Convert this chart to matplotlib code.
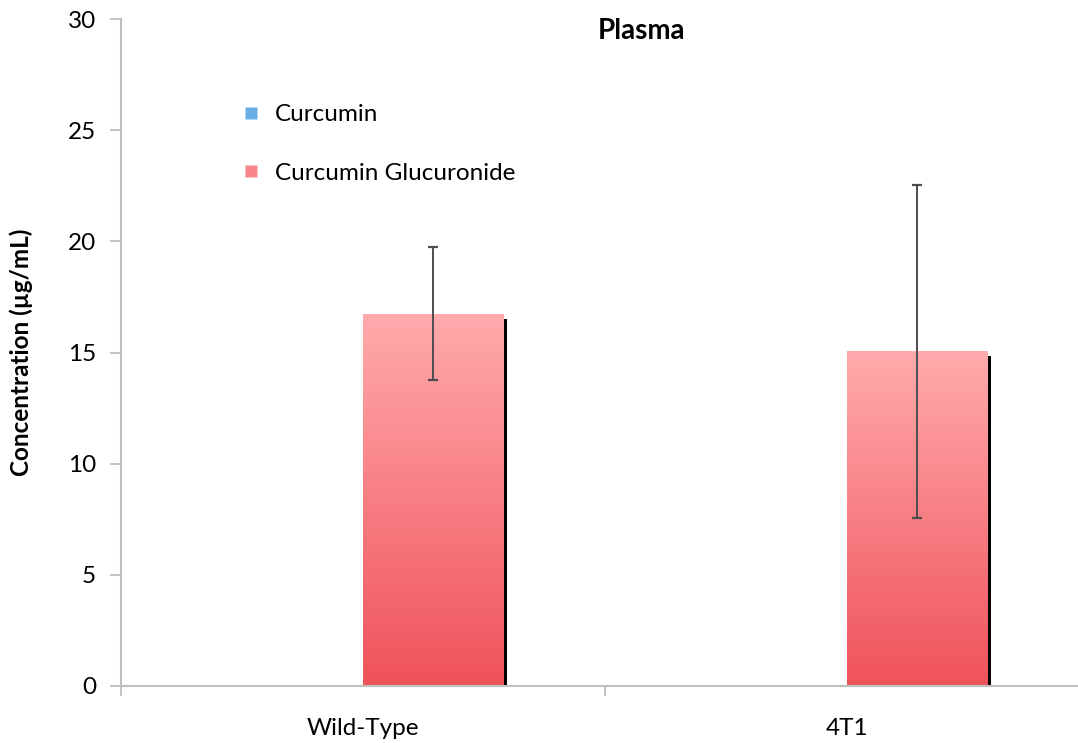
import numpy as np
import matplotlib
matplotlib.use("Agg")
import matplotlib.pyplot as plt
from matplotlib.patches import Rectangle
from matplotlib.lines import Line2D
import matplotlib.transforms as mtransforms
from matplotlib.colors import LinearSegmentedColormap

plt.rcParams['font.family'] = ['Lato', 'DejaVu Sans']

categories = ["Wild-Type", "4T1"]
curcumin = [0.0, 0.0]
glucuronide = [16.75, 15.05]
glucuronide_err = [3.0, 7.5]
series_labels = ["Curcumin", "Curcumin Glucuronide"]

fig = plt.figure(figsize=(10.78, 7.43), dpi=100)
ax = fig.add_axes([121 / 1078, 57 / 743, 968 / 1078, 667 / 743])

x = np.arange(len(categories))
w = 0.29

pink_cmap = LinearSegmentedColormap.from_list("pink", ["#f0525a", "#ffabad"])
blue_cmap = LinearSegmentedColormap.from_list("blue", ["#3d8fd6", "#9ccbf3"])
grad = np.linspace(0, 1, 256).reshape(-1, 1)


def gradient_bar(x0, height, cmap):
    if height <= 0:
        return
    # drop shadow offset right/down
    shadow_tr = ax.transData + mtransforms.ScaledTranslation(4 / 100, -5 / 100, fig.dpi_scale_trans)
    ax.add_patch(Rectangle((x0, 0), w, height, facecolor="black", edgecolor="none",
                           transform=shadow_tr, zorder=1))
    rect = Rectangle((x0, 0), w, height, facecolor="none", edgecolor="none", zorder=2)
    ax.add_patch(rect)
    im = ax.imshow(grad, extent=(x0, x0 + w, 0, height), origin="lower", cmap=cmap,
                   aspect="auto", zorder=2, interpolation="bilinear")
    im.set_clip_path(rect)


for xi, v in zip(x, curcumin):
    gradient_bar(xi - w, v, blue_cmap)
for xi, v in zip(x, glucuronide):
    gradient_bar(xi, v, pink_cmap)

ax.errorbar(x + w / 2, glucuronide, yerr=glucuronide_err, fmt="none", ecolor="#4d4d4d",
            elinewidth=1.4, capsize=3.8, capthick=1.6, zorder=3)

ax.set_xlim(-0.5, 1.5)
ax.set_ylim(0, 30)
ax.set_yticks(np.arange(0, 31, 5))
ax.set_xticks([-0.5, 0.5, 1.5])
ax.set_xticklabels([])
ax.set_xticks(x, minor=True)
ax.set_xticklabels(categories, minor=True)
ax.tick_params(axis="x", which="minor", length=0, pad=23, labelsize=17.5)
ax.tick_params(axis="x", which="major", length=7, color="#bfbfbf", width=1.3)
ax.tick_params(axis="y", length=8, color="#bfbfbf", width=1.3, labelsize=17.5, pad=10)

for s in ["top", "right"]:
    ax.spines[s].set_visible(False)
for s in ["left", "bottom"]:
    ax.spines[s].set_color("#bfbfbf")
    ax.spines[s].set_linewidth(1.5)

ax.set_ylabel("Concentration (µg/mL)", fontsize=17.5, fontweight="bold")
ax.yaxis.set_label_coords((33 - 121) / 968, 0.5)
fig.text(641 / 1078, 1 - 31 / 743, "Plasma", fontsize=20, fontweight="bold",
         ha="center", va="center")

handles = [
    Line2D([], [], marker="s", linestyle="none", markersize=8,
           markerfacecolor="#6aaee6", markeredgecolor="none"),
    Line2D([], [], marker="s", linestyle="none", markersize=8,
           markerfacecolor="#f9868b", markeredgecolor="none"),
]
ax.legend(handles, series_labels, loc="upper left", bbox_to_anchor=(0.104, 0.905),
          frameon=False, fontsize=17.5, labelspacing=1.55, handlelength=0.6,
          handletextpad=0.7)

fig.savefig("out.png", dpi=100)
